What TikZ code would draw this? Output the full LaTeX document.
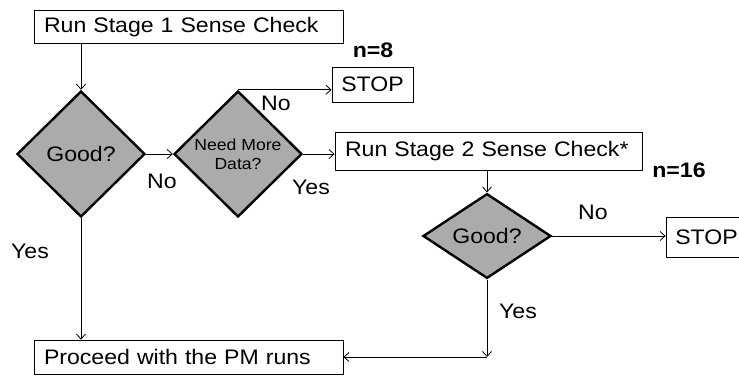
\documentclass[tikz,border=0pt]{standalone}
\usepackage{fontspec}
\setmainfont{Liberation Sans}[FakeStretch=1.1]
\usepackage{xcolor}
\usepackage{tikz}
\usetikzlibrary{shapes.geometric,arrows.meta,positioning,calc}

\begin{document}
\begin{tikzpicture}[
    x=1pt, y=-1pt,
    >={Straight Barb[length=5pt, width=9pt]},
    every node/.style={font=\fontsize{21}{24}\selectfont},
    stepbox/.style={rectangle, draw, line width=0.8pt, inner xsep=10pt, inner ysep=0pt, align=left},
    stopbox/.style={rectangle, draw, line width=0.8pt, minimum width=81pt, inner sep=0pt},
    check/.style={diamond, draw, line width=2.4pt, fill=black!33, inner sep=0pt, minimum width=128pt},
    flow/.style={->, line width=0.8pt},
    label/.style={inner sep=0pt}
]
    \useasboundingbox (0,0) rectangle (739,376);

    % Steps
    \node[stepbox, text width=289pt, minimum height=33pt] (stage1) at (188.5,27) {Run Stage 1 Sense Check};
    \node[stepbox, text width=287pt, minimum height=38pt] (stage2) at (488.5,151) {Run Stage 2 Sense Check*};
    \node[stepbox, text width=289pt, minimum height=34pt] (proceed) at (188.5,357) {Proceed with the PM runs};
    \node[stopbox, minimum height=35pt] (stop1) at (372.5,84.5) {STOP};
    \node[stopbox, minimum height=40pt] (stop2) at (706.5,237) {STOP};

    % Decisions
    \node[check, minimum height=126pt] (good1) at (81,154) {Good?};
    \node[check, minimum height=126pt, font=\fontsize{16}{19}\selectfont, align=center] (more) at (238,154) {Need More\\Data?};
    \node[check, minimum height=82pt] (good2) at (487,236) {Good?};

    % Connectors
    \draw[flow] (stage1.south -| good1.north) -- (good1.north);
    \draw[flow] (good1.east) -- (more.west);
    \draw[flow] (more.north) -- (more.north -| stop1.west);
    \draw[flow] (more.east) -- (more.east -| stage2.west);
    \draw[flow] (stage2.south -| good2.north) -- (good2.north);
    \draw[flow] (good2.east) -- (good2.east -| stop2.west);
    \coordinate (corner) at (good2.south |- proceed.east);
    \draw[flow] (good2.south) -- (corner);
    \draw[flow] (corner) -- (proceed.east);
    \draw[flow] (good1.south) -- (good1.south |- proceed.north);

    % Answers
    \node[label] (no1) at (162,181) {No};
    \node[label] (no2) at (276,103) {No};
    \node[label] (yes2) at (311,187) {Yes};
    \node[label] (yes1) at (30,251) {Yes};
    \node[label] (no3) at (593,212) {No};
    \node[label] (yes3) at (518,311) {Yes};

    % Sample sizes
    \node[label, font=\fontsize{21}{24}\selectfont\bfseries] (n8) at (373,50) {n=8};
    \node[label, font=\fontsize{21}{24}\selectfont\bfseries] (n16) at (679,170) {n=16};
\end{tikzpicture}
\end{document}
